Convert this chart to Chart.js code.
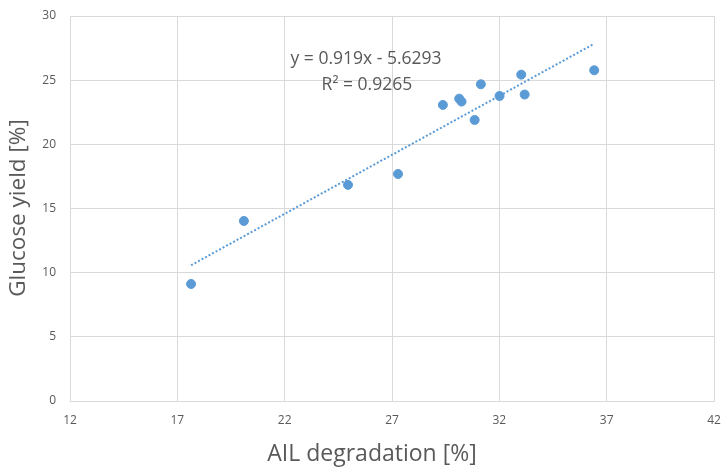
<!DOCTYPE html>
<html>
<head>
<meta charset="utf-8">
<script src="https://cdn.jsdelivr.net/npm/chart.js@4.4.0/dist/chart.umd.min.js"></script>
<style>
  html, body { margin: 0; padding: 0; background: #fff; }
  #wrap { width: 722px; height: 467px; }
</style>
</head>
<body>
<div id="wrap"><canvas id="chart" width="722" height="467"></canvas></div>
<script>
// AIL degradation [%] vs glucose yield [%]
const ailDeg = [17.64, 20.10, 24.95, 27.28, 29.37, 30.13, 30.24, 30.85, 31.14, 32.01, 33.02, 33.18, 36.42];
const glucoseYield = [9.12, 14.03, 16.84, 17.69, 23.07, 23.56, 23.33, 21.90, 24.68, 23.77, 25.43, 23.88, 25.77];

// linear trendline ends (y = 0.919x - 5.6293)
const trendX = [17.64, 36.42];
const trendY = [10.58, 27.84];

const eqLabels = ['y = 0.919x - 5.6293', 'R² = 0.9265'];
const eqAt = [[25.79, 26.66], [25.83, 24.63]];

const xTitle = 'AIL degradation [%]';
const yTitle = 'Glucose yield [%]';

const fontName = "'Open Sans', sans-serif";
const grey = '#595959';
const blue = '#5b9bd5';

const points = ailDeg.map((x, i) => ({ x: x, y: glucoseYield[i] }));
const trend = trendX.map((x, i) => ({ x: x, y: trendY[i] }));

const labelsPlugin = {
    id: 'labels',
    afterDraw(chart) {
        const ctx = chart.ctx;
        const xs = chart.scales.x;
        const ys = chart.scales.y;
        ctx.save();
        ctx.fillStyle = grey;
        ctx.textAlign = 'center';
        ctx.textBaseline = 'middle';
        ctx.font = '17.5px ' + fontName;
        for (let i = 0; i < eqLabels.length; i++) {
            ctx.fillText(eqLabels[i], xs.getPixelForValue(eqAt[i][0]), ys.getPixelForValue(eqAt[i][1]));
        }
        // axis titles
        ctx.font = '23px ' + fontName;
        ctx.fillText(xTitle, 372, 454);
        ctx.font = '22.5px ' + fontName;
        ctx.translate(19, 208);
        ctx.rotate(-Math.PI / 2);
        ctx.fillText(yTitle, 0, 0);
        ctx.restore();
    }
};

const chart = new Chart(document.querySelector('#chart'), {
    type: 'scatter',
    data: {
        datasets: [{
            data: points,
            backgroundColor: blue,
            borderColor: blue,
            pointRadius: 4.5,
            showLine: false,
        }, {
            data: trend,
            type: 'line',
            borderColor: blue,
            borderWidth: 2,
            borderDash: [2, 2],
            pointRadius: 0,
            fill: false,
        }]
    },
    options: {
        responsive: false,
        animation: false,
        layout: { padding: { top: 16, right: 8, left: 0, bottom: 0 } },
        plugins: { legend: { display: false }, tooltip: { enabled: false } },
        scales: {
            x: {
                type: 'linear',
                min: 12, max: 42,
                ticks: { stepSize: 5, color: grey, font: { size: 12, family: fontName }, padding: 12, maxRotation: 0 },
                grid: { color: '#d9d9d9', drawTicks: false },
                border: { color: '#d9d9d9' },
                afterFit(scale) {
                    scale.height = 66;
                    scale.paddingLeft = 0;
                    scale.paddingRight = 0;
                }
            },
            y: {
                min: 0, max: 30,
                ticks: { stepSize: 5, color: grey, font: { size: 12, family: fontName }, padding: 14 },
                grid: { color: '#d9d9d9', drawTicks: false },
                border: { color: '#d9d9d9' },
                afterFit(scale) {
                    scale.width = 70;
                    scale.paddingTop = 0;
                    scale.paddingBottom = 0;
                }
            }
        }
    },
    plugins: [labelsPlugin]
});
</script>
</body>
</html>
